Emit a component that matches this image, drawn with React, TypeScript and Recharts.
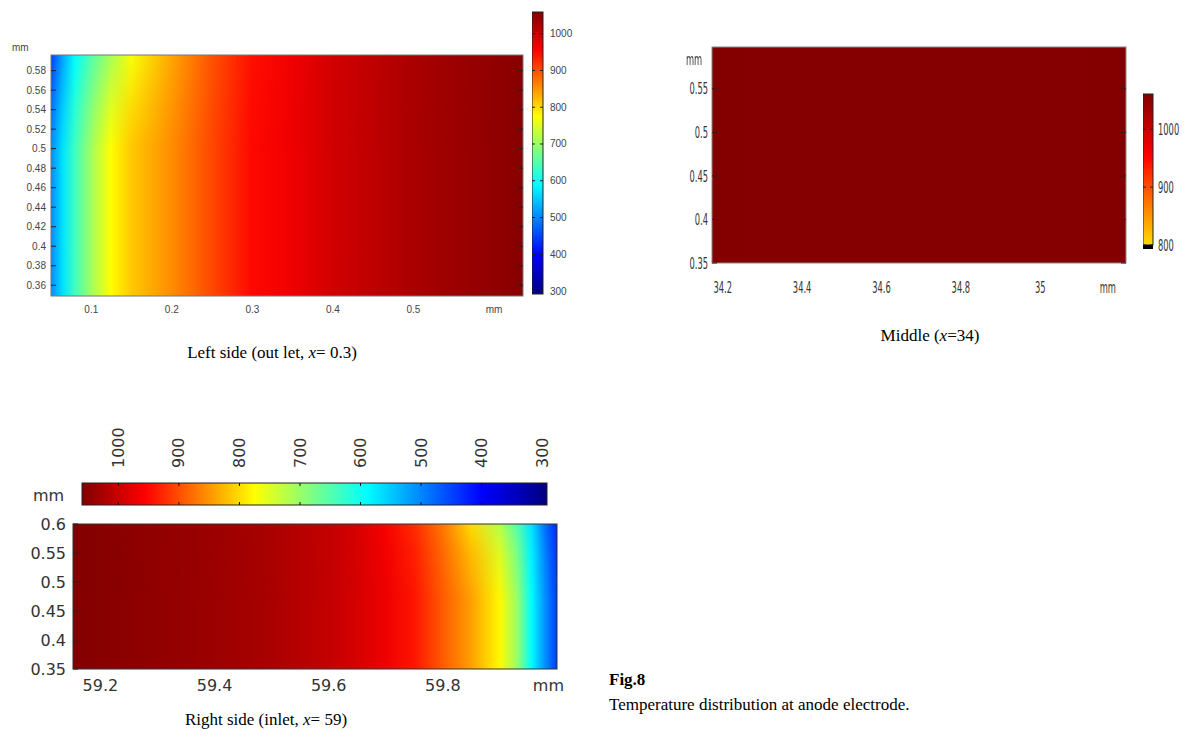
import React from 'react';
import { ComposedChart, XAxis, YAxis, ReferenceArea } from 'recharts';

// colour scale (temperature -> colour)
const colorTemps = [290, 400, 590, 682, 775, 955, 1061];
const colorStops = ['#00007f', '#0000ff', '#00ffff', '#80ff80', '#ffff00', '#ff0000', '#800000'];

// left side (outlet, x = 0.3)
const leftX = [0.05, 0.065, 0.08, 0.1, 0.124, 0.15, 0.2, 0.25, 0.3, 0.35, 0.4, 0.45, 0.5, 0.55, 0.6, 0.636];
const leftTempBottom = [505, 570, 636, 706, 775, 814, 856, 905, 950, 968, 993, 1009, 1026, 1038, 1047, 1055];
const leftTempTop = [445, 525, 590, 650, 710, 770, 838, 898, 945, 968, 993, 1009, 1026, 1038, 1047, 1055];
const leftBendY = [0.596, 0.57, 0.54, 0.5];
const leftBendWeight = [1, 0.7, 0.35, 0];
const leftXTicks = [0.1, 0.2, 0.3, 0.4, 0.5, 0.6];
const leftYTicks = [0.36, 0.38, 0.4, 0.42, 0.44, 0.46, 0.48, 0.5, 0.52, 0.54, 0.56, 0.58];
const leftBarTicks = [300, 400, 500, 600, 700, 800, 900, 1000];

// middle (x = 34)
const midX = [34.173, 34.7, 35.216];
const midTemp = [1058, 1057, 1058];
const midXTicks = [34.2, 34.4, 34.6, 34.8, 35, 35.17];
const midYTicks = [0.35, 0.4, 0.45, 0.5, 0.55];
const midBarTicks = [800, 900, 1000];

// right side (inlet, x = 59)
const rightX = [59.152, 59.2, 59.3, 59.4, 59.5, 59.6, 59.65, 59.7, 59.75, 59.8, 59.85, 59.9, 59.93, 59.955, 59.98, 60];
const rightTempBottom = [1059, 1055, 1047, 1038, 1026, 1005, 989, 968, 941, 891, 842, 779, 700, 590, 504, 445];
const rightTempTop = [1059, 1055, 1047, 1038, 1026, 1005, 989, 960, 925, 870, 800, 720, 650, 570, 480, 430];
const rightBendY = [0.6, 0.55, 0.47];
const rightBendWeight = [1, 0.45, 0];
const rightXTicks = [59.2, 59.4, 59.6, 59.8, 59.985];
const rightYTicks = [0.35, 0.4, 0.45, 0.5, 0.55, 0.6];
const rightBarTicks = [1000, 900, 800, 700, 600, 500, 400, 300];

type Stop = { offset: number; color: string };
type Font = { family: string; size: number; color: string; sx: number };

const hexRgb = (h: string) => [1, 3, 5].map((i) => parseInt(h.slice(i, i + 2), 16));

const tempColor = (t: number) => {
  const n = colorTemps.length;
  if (t <= colorTemps[0]) return colorStops[0];
  if (t >= colorTemps[n - 1]) return colorStops[n - 1];
  let i = 0;
  while (t > colorTemps[i + 1]) i++;
  const f = (t - colorTemps[i]) / (colorTemps[i + 1] - colorTemps[i]);
  const a = hexRgb(colorStops[i]);
  const b = hexRgb(colorStops[i + 1]);
  const c = a.map((v, k) => Math.round(v + (b[k] - v) * f));
  return `rgb(${c[0]},${c[1]},${c[2]})`;
};

const profileStops = (xs: number[], temps: number[], d0: number, d1: number): Stop[] =>
  xs.map((x, i) => ({ offset: (x - d0) / (d1 - d0), color: tempColor(temps[i]) }));

const barStops = (t0: number, t1: number): Stop[] => {
  const ts = [t0, ...colorTemps.filter((t) => t > t0 && t < t1), t1];
  return ts.map((t) => ({ offset: (t - t0) / (t1 - t0), color: tempColor(t) }));
};

const Label = ({ x, y, text, font, anchor }: { x: number; y: number; text: string; font: Font; anchor: string }) => (
  <text
    transform={`translate(${x},${y}) scale(${font.sx},1)`}
    dy="0.35em"
    textAnchor={anchor}
    fontFamily={font.family}
    fontSize={font.size}
    fill={font.color}
  >
    {text}
  </text>
);

interface PanelProps {
  id: string;
  left: number;
  top: number;
  plotW: number;
  plotH: number;
  yAxisW: number;
  marginTop: number;
  xAxisH: number;
  xDomain: [number, number];
  yDomain: [number, number];
  xs: number[];
  tempsBottom: number[];
  tempsTop?: number[];
  bendY?: number[];
  bendW?: number[];
  xTicks: number[];
  yTicks: number[];
  unitTick: number;
  font: Font;
  xTickMargin: number;
  yTickMargin: number;
  rightTicks: boolean;
  border: string;
}

const HeatPanel = (p: PanelProps) => {
  const [x0, x1] = p.xDomain;
  const [y0, y1] = p.yDomain;
  const marginRight = 30;
  const bottomStops = profileStops(p.xs, p.tempsBottom, x0, x1);
  const topStops = p.tempsTop ? profileStops(p.xs, p.tempsTop, x0, x1) : null;
  const fade = p.bendY && p.bendW ? p.bendY.map((y, i) => ({ offset: (y1 - y) / (y1 - y0), w: p.bendW![i] })) : null;

  const shape = (s: any) => {
    const { x, y, width, height } = s;
    return (
      <g>
        <defs>
          <linearGradient id={`${p.id}-b`} x1="0" y1="0" x2="1" y2="0">
            {bottomStops.map((st, i) => <stop key={i} offset={st.offset} stopColor={st.color} />)}
          </linearGradient>
          {topStops && (
            <linearGradient id={`${p.id}-t`} x1="0" y1="0" x2="1" y2="0">
              {topStops.map((st, i) => <stop key={i} offset={st.offset} stopColor={st.color} />)}
            </linearGradient>
          )}
          {fade && (
            <linearGradient id={`${p.id}-f`} x1="0" y1="0" x2="0" y2="1">
              {fade.map((st, i) => <stop key={i} offset={st.offset} stopColor="#fff" stopOpacity={st.w} />)}
            </linearGradient>
          )}
          {fade && (
            <mask id={`${p.id}-m`} maskUnits="userSpaceOnUse" x={x} y={y} width={width} height={height}>
              <rect x={x} y={y} width={width} height={height} fill={`url(#${p.id}-f)`} />
            </mask>
          )}
        </defs>
        <rect x={x} y={y} width={width} height={height} fill={`url(#${p.id}-b)`} />
        {topStops && fade && (
          <rect x={x} y={y} width={width} height={height} fill={`url(#${p.id}-t)`} mask={`url(#${p.id}-m)`} />
        )}
        <rect x={x} y={y} width={width} height={height} fill="none" stroke={p.border} strokeWidth={1} />
      </g>
    );
  };

  const YTick = (t: any) => {
    const edge = t.x + p.yTickMargin;
    return (
      <g>
        <line x1={edge} x2={edge + 5} y1={t.y} y2={t.y} stroke="#222" />
        {p.rightTicks && <line x1={edge + p.plotW - 5} x2={edge + p.plotW} y1={t.y} y2={t.y} stroke="#222" />}
        <Label x={t.x} y={t.y} text={String(t.payload.value)} font={p.font} anchor="end" />
      </g>
    );
  };

  const XTick = (t: any) => (
    <Label
      x={t.x}
      y={t.y}
      text={t.payload.value === p.unitTick ? 'mm' : String(t.payload.value)}
      font={p.font}
      anchor="middle"
    />
  );

  return (
    <div style={{ position: 'absolute', left: p.left, top: p.top }}>
      <ComposedChart
        width={p.yAxisW + p.plotW + marginRight}
        height={p.marginTop + p.plotH + p.xAxisH}
        margin={{ top: p.marginTop, right: marginRight, left: 0, bottom: 0 }}
        data={p.xs.map((x, i) => ({ x, t: p.tempsBottom[i] }))}
      >
        <XAxis
          type="number"
          dataKey="x"
          domain={p.xDomain}
          ticks={p.xTicks}
          interval={0}
          allowDataOverflow
          height={p.xAxisH}
          tickSize={0}
          tickMargin={p.xTickMargin}
          axisLine={false}
          tick={XTick}
        />
        <YAxis
          type="number"
          domain={p.yDomain}
          ticks={p.yTicks}
          interval={0}
          allowDataOverflow
          width={p.yAxisW}
          tickSize={0}
          tickMargin={p.yTickMargin}
          axisLine={false}
          tick={YTick}
        />
        <ReferenceArea x1={x0} x2={x1} y1={y0} y2={y1} shape={shape} ifOverflow="visible" />
      </ComposedChart>
    </div>
  );
};

interface BarProps {
  id: string;
  left: number;
  top: number;
  barW: number;
  barH: number;
  domain: [number, number];
  ticks: number[];
  font: Font;
  tickMargin: number;
  under?: number;
  horizontal?: boolean;
}

const ColorBar = (p: BarProps) => {
  const [t0, t1] = p.domain;
  const low = p.under ?? t0;
  const stops = barStops(low, t1);
  const data = p.ticks.map((t) => ({ t, c: 0.5 }));
  const shape = (s: any) => {
    const { x, y, width, height } = s;
    const grad = p.horizontal ? { x1: '1', y1: '0', x2: '0', y2: '0' } : { x1: '0', y1: '1', x2: '0', y2: '0' };
    return (
      <g>
        <defs>
          <linearGradient id={`${p.id}-g`} {...grad}>
            {stops.map((st, i) => <stop key={i} offset={st.offset} stopColor={st.color} />)}
          </linearGradient>
        </defs>
        <rect x={x} y={y} width={width} height={height} fill={`url(#${p.id}-g)`} stroke="#222" strokeWidth={1} />
      </g>
    );
  };
  const underShape = (s: any) => <rect x={s.x} y={s.y} width={s.width} height={s.height} fill="#000" />;

  if (p.horizontal) {
    const HTick = (t: any) => {
      const edge = t.y + p.tickMargin;
      return (
        <g>
          <line x1={t.x} x2={t.x} y1={edge} y2={edge + 3} stroke="#111" />
          <line x1={t.x} x2={t.x} y1={edge + p.barH - 3} y2={edge + p.barH} stroke="#111" />
          <text
            transform={`translate(${t.x},${t.y}) rotate(-90)`}
            dy="0.35em"
            textAnchor="start"
            fontFamily={p.font.family}
            fontSize={p.font.size}
            fill={p.font.color}
          >
            {t.payload.value}
          </text>
        </g>
      );
    };
    const axisH = 60;
    return (
      <div style={{ position: 'absolute', left: p.left - 10, top: p.top - axisH }}>
        <ComposedChart
          width={p.barW + 22}
          height={p.barH + axisH + 4}
          margin={{ top: 0, right: 12, left: 10, bottom: 4 }}
          data={data}
        >
          <XAxis
            type="number"
            dataKey="t"
            orientation="top"
            domain={p.domain}
            reversed
            ticks={p.ticks}
            interval={0}
            allowDataOverflow
            height={axisH}
            tickSize={0}
            tickMargin={p.tickMargin}
            axisLine={false}
            tick={HTick}
          />
          <YAxis hide type="number" dataKey="c" domain={[0, 1]} allowDataOverflow />
          <ReferenceArea x1={t0} x2={t1} y1={0} y2={1} shape={shape} ifOverflow="visible" />
        </ComposedChart>
      </div>
    );
  }

  const VTick = (t: any) => {
    const edge = t.x - p.tickMargin;
    return (
      <g>
        <line x1={edge - p.barW} x2={edge - p.barW + 3} y1={t.y} y2={t.y} stroke="#222" />
        <line x1={edge - 3} x2={edge} y1={t.y} y2={t.y} stroke="#222" />
        <Label x={t.x} y={t.y} text={String(t.payload.value)} font={p.font} anchor="start" />
      </g>
    );
  };
  const axisW = 40;
  return (
    <div style={{ position: 'absolute', left: p.left, top: p.top - 10 }}>
      <ComposedChart
        width={p.barW + axisW}
        height={p.barH + 20}
        margin={{ top: 10, right: 0, left: 0, bottom: 10 }}
        layout="horizontal"
        data={data}
      >
        <XAxis hide type="number" dataKey="c" domain={[0, 1]} allowDataOverflow />
        <YAxis
          type="number"
          dataKey="t"
          orientation="right"
          domain={[t0, t1]}
          ticks={p.ticks}
          interval={0}
          allowDataOverflow
          width={axisW}
          tickSize={0}
          tickMargin={p.tickMargin}
          axisLine={false}
          tick={VTick}
        />
        <ReferenceArea x1={0} x2={1} y1={low} y2={t1} shape={shape} ifOverflow="visible" />
        {p.under !== undefined && (
          <ReferenceArea x1={0} x2={1} y1={t0} y2={p.under} shape={underShape} ifOverflow="visible" />
        )}
      </ComposedChart>
    </div>
  );
};

const smallFont: Font = { family: 'Liberation Sans, Arial, sans-serif', size: 10, color: '#444', sx: 1 };
const narrowFont: Font = { family: 'DejaVu Sans, sans-serif', size: 16, color: '#333', sx: 0.52 };
const plainFont: Font = { family: 'DejaVu Sans, sans-serif', size: 16, color: '#333', sx: 1 };

const serif = '"Liberation Serif", "Times New Roman", serif';

const Caption = ({ cx, cy, children }: { cx: number; cy: number; children: React.ReactNode }) => (
  <div
    style={{
      position: 'absolute',
      left: cx - 200,
      top: cy - 11,
      width: 400,
      textAlign: 'center',
      fontFamily: serif,
      fontSize: 17,
      lineHeight: '22px',
      color: '#000',
    }}
  >
    {children}
  </div>
);

export default function App() {
  return (
    <div style={{ position: 'absolute', left: 0, top: 0, width: 1188, height: 737, background: '#fff', overflow: 'hidden' }}>
      {/* left side */}
      <span style={{ position: 'absolute', left: 12, top: 42, fontFamily: smallFont.family, fontSize: 10, color: '#444' }}>mm</span>
      <HeatPanel
        id="left"
        left={0}
        top={40}
        plotW={472}
        plotH={241}
        yAxisW={51}
        marginTop={15}
        xAxisH={25}
        xDomain={[0.05, 0.636]}
        yDomain={[0.349, 0.596]}
        xs={leftX}
        tempsBottom={leftTempBottom}
        tempsTop={leftTempTop}
        bendY={leftBendY}
        bendW={leftBendWeight}
        xTicks={leftXTicks}
        yTicks={leftYTicks}
        unitTick={0.6}
        font={smallFont}
        xTickMargin={13}
        yTickMargin={5}
        rightTicks
        border="#777"
      />
      <ColorBar id="leftbar" left={532} top={12} barW={11} barH={282} domain={[292, 1059]} ticks={leftBarTicks} font={smallFont} tickMargin={7} />
      <Caption cx={272} cy={353}>
        Left side (out let, <i>x</i>= 0.3)
      </Caption>

      {/* middle */}
      <span
        style={{
          position: 'absolute',
          left: 686,
          top: 50,
          fontFamily: narrowFont.family,
          fontSize: 16,
          color: '#333',
          display: 'inline-block',
          transform: 'scaleX(0.52)',
          transformOrigin: 'left top',
        }}
      >
        mm
      </span>
      <HeatPanel
        id="mid"
        left={662}
        top={37}
        plotW={414}
        plotH={216}
        yAxisW={50}
        marginTop={10}
        xAxisH={35}
        xDomain={[34.173, 35.216]}
        yDomain={[0.35, 0.598]}
        xs={midX}
        tempsBottom={midTemp}
        xTicks={midXTicks}
        yTicks={midYTicks}
        unitTick={35.17}
        font={narrowFont}
        xTickMargin={24}
        yTickMargin={4}
        rightTicks
        border="#888"
      />
      <ColorBar id="midbar" left={1143} top={94} barW={10} barH={155} domain={[793, 1061]} under={800} ticks={midBarTicks} font={narrowFont} tickMargin={5} />
      <Caption cx={930} cy={336}>
        Middle (<i>x</i>=34)
      </Caption>

      {/* right side */}
      <span style={{ position: 'absolute', left: 33, top: 486, fontFamily: plainFont.family, fontSize: 16, color: '#333' }}>mm</span>
      <ColorBar id="rightbar" left={82} top={483} barW={465} barH={22} domain={[292, 1060]} ticks={rightBarTicks} font={plainFont} tickMargin={15} horizontal />
      <HeatPanel
        id="right"
        left={0}
        top={514}
        plotW={484}
        plotH={145}
        yAxisW={73}
        marginTop={10}
        xAxisH={30}
        xDomain={[59.152, 60]}
        yDomain={[0.35, 0.6]}
        xs={rightX}
        tempsBottom={rightTempBottom}
        tempsTop={rightTempTop}
        bendY={rightBendY}
        bendW={rightBendWeight}
        xTicks={rightXTicks}
        yTicks={rightYTicks}
        unitTick={59.985}
        font={plainFont}
        xTickMargin={16}
        yTickMargin={7}
        rightTicks={false}
        border="#333"
      />
      <Caption cx={266} cy={720}>
        Right side (inlet, <i>x</i>= 59)
      </Caption>

      <div style={{ position: 'absolute', left: 609, top: 669, fontFamily: serif, fontSize: 17, lineHeight: '22px', fontWeight: 'bold' }}>
        Fig.8
      </div>
      <div style={{ position: 'absolute', left: 609, top: 694, fontFamily: serif, fontSize: 17, lineHeight: '22px' }}>
        Temperature distribution at anode electrode.
      </div>
    </div>
  );
}
